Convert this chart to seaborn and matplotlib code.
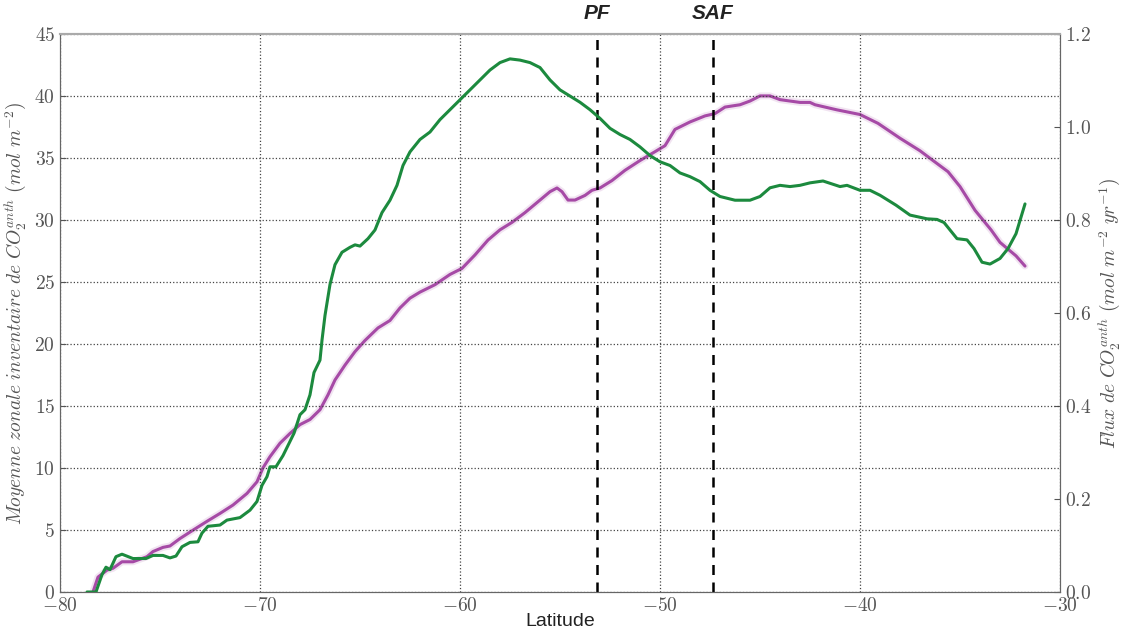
import matplotlib
matplotlib.use('Agg')
import matplotlib.pyplot as plt
from matplotlib.ticker import FuncFormatter
import seaborn as sns
import pandas as pd

# inventaire zonal (axe de gauche, mol m-2)
lat_inv = [-78.65, -78.2, -77.9, -77.7, -77.5, -77.2, -76.9, -76.35, -75.7, -75.35,
           -74.85, -74.5, -74.2, -73.9, -73.5, -73.1, -72.9, -72.6, -72.0, -71.65,
           -71.0, -70.5, -70.15, -69.9, -69.65, -69.5, -69.2, -68.85, -68.3, -68.0,
           -67.75, -67.5, -67.3, -67.0, -66.9, -66.75, -66.5, -66.25, -65.9, -65.5,
           -65.25, -65.0, -64.6, -64.25, -63.9, -63.5, -63.15, -62.85, -62.5, -62.0,
           -61.5, -61.0, -60.5, -60.0, -59.5, -59.0, -58.5, -58.0, -57.5, -57.0,
           -56.5, -56.0, -55.5, -55.0, -54.5, -54.0, -53.5, -53.0, -52.5, -52.0,
           -51.5, -51.0, -50.5, -50.0, -49.5, -49.0, -48.5, -48.0, -47.5, -47.0,
           -46.25, -45.5, -45.0, -44.5, -44.0, -43.5, -43.0, -42.5, -41.85, -41.0,
           -40.65, -40.0, -39.5, -39.0, -38.2, -37.5, -36.65, -36.15, -35.8, -35.15,
           -34.65, -34.3, -33.9, -33.5, -33.0, -32.6, -32.2, -31.75]
inventaire = [0.0, 0.0, 1.4, 2.0, 1.8, 2.85, 3.05, 2.7, 2.7, 2.95,
              2.95, 2.75, 2.9, 3.65, 4.0, 4.05, 4.75, 5.3, 5.4, 5.8,
              6.0, 6.6, 7.3, 8.6, 9.3, 10.1, 10.1, 11.0, 12.8, 14.3,
              14.7, 15.9, 17.7, 18.7, 20.3, 22.3, 24.8, 26.4, 27.4, 27.8,
              28.0, 27.9, 28.5, 29.2, 30.6, 31.6, 32.8, 34.4, 35.5, 36.5,
              37.1, 38.1, 38.9, 39.7, 40.5, 41.3, 42.1, 42.7, 43.0, 42.9,
              42.7, 42.3, 41.3, 40.5, 40.0, 39.5, 38.9, 38.2, 37.4, 36.9,
              36.5, 35.9, 35.2, 34.7, 34.4, 33.8, 33.5, 33.1, 32.4, 31.9,
              31.6, 31.6, 31.9, 32.6, 32.8, 32.7, 32.8, 33.0, 33.15, 32.7,
              32.8, 32.4, 32.4, 32.0, 31.2, 30.4, 30.1, 30.05, 29.8, 28.5,
              28.4, 27.7, 26.6, 26.45, 26.9, 27.7, 28.9, 31.3]

# flux (axe de droite, mol m-2 yr-1)
lat_flux = [-78.35, -78.1, -77.65, -77.35, -76.9, -76.35, -75.65, -75.35, -74.85, -74.5,
            -74.0, -73.35, -72.65, -72.0, -71.35, -70.65, -70.15, -69.85, -69.5, -69.0,
            -68.5, -68.0, -67.5, -67.0, -66.6, -66.25, -65.75, -65.25, -64.75, -64.1,
            -63.5, -63.0, -62.5, -62.0, -61.25, -60.5, -59.9, -59.25, -58.6, -58.0,
            -57.4, -56.75, -56.0, -55.5, -55.15, -54.9, -54.6, -54.25, -53.75, -53.4,
            -53.0, -52.4, -51.75, -51.0, -50.25, -49.75, -49.25, -48.5, -47.75, -47.25,
            -46.75, -46.0, -45.5, -45.0, -44.5, -44.0, -43.0, -42.5, -42.25, -41.15,
            -40.0, -39.1, -38.0, -37.0, -36.35, -35.6, -35.0, -34.25, -33.45, -33.0,
            -32.7, -32.2, -31.75]
flux = [0.0, 0.032, 0.047, 0.051, 0.065, 0.065, 0.076, 0.087, 0.096, 0.099,
        0.115, 0.133, 0.152, 0.169, 0.187, 0.212, 0.237, 0.267, 0.291, 0.320,
        0.341, 0.360, 0.371, 0.392, 0.424, 0.456, 0.488, 0.517, 0.541, 0.568,
        0.584, 0.611, 0.632, 0.645, 0.661, 0.683, 0.696, 0.725, 0.757, 0.779,
        0.795, 0.816, 0.843, 0.861, 0.869, 0.861, 0.843, 0.843, 0.853, 0.864,
        0.869, 0.885, 0.907, 0.928, 0.947, 0.960, 0.995, 1.011, 1.024, 1.029,
        1.043, 1.048, 1.056, 1.067, 1.067, 1.059, 1.053, 1.053, 1.048, 1.037,
        1.027, 1.008, 0.976, 0.949, 0.928, 0.904, 0.872, 0.821, 0.779, 0.752,
        0.741, 0.723, 0.701]

fronts = [-53.15, -47.35]
front_names = ['PF', 'SAF']

green = '#1c8a3e'
purple = '#a64aa6'
grey = '#555555'

sns.set_style('white')
plt.rcParams['font.family'] = ['DejaVu Serif']
plt.rcParams['mathtext.fontset'] = 'cm'

df_inv = pd.DataFrame({'lat': lat_inv, 'val': inventaire})
df_flux = pd.DataFrame({'lat': lat_flux, 'val': flux})

fig = plt.figure(figsize=(11.21, 6.31), dpi=100)
ax = fig.add_axes([0.0535, 0.0618, 0.8921, 0.8842])
ax2 = ax.twinx()

sns.lineplot(data=df_flux, x='lat', y='val', ax=ax2, color=purple, lw=5, alpha=0.15,
             sort=False, estimator=None)
sns.lineplot(data=df_flux, x='lat', y='val', ax=ax2, color=purple, lw=2.2,
             sort=False, estimator=None)
sns.lineplot(data=df_inv, x='lat', y='val', ax=ax, color=green, lw=2.2,
             sort=False, estimator=None, zorder=3)

ax.set_zorder(ax2.get_zorder() + 1)
ax.patch.set_visible(False)

ax.set_xlim(-80, -30)
ax.set_ylim(0, 45)
ax2.set_ylim(0, 1.2)
ax.set_xticks(range(-80, -29, 10))
ax.set_yticks(range(0, 46, 5))
ax2.set_yticks([0.0, 0.2, 0.4, 0.6, 0.8, 1.0, 1.2])

mfmt = FuncFormatter(lambda v, p: '$%g$' % v)
ax.xaxis.set_major_formatter(mfmt)
ax.yaxis.set_major_formatter(mfmt)
ax2.yaxis.set_major_formatter(FuncFormatter(lambda v, p: '$%.1f$' % v))

ax.grid(True, ls=':', color='#444444', lw=0.9)
ax2.grid(False)

for a in (ax, ax2):
    a.tick_params(labelsize=14, colors=grey, direction='in', length=4)
    for s in a.spines.values():
        s.set_color('#666666')
    a.spines['top'].set_color('#aaaaaa')
    a.spines['top'].set_linewidth(1.5)
    a.set_xlabel('')
    a.set_ylabel('')

for xf, name in zip(fronts, front_names):
    ax.axvline(xf, color='black', ls='--', lw=1.8, dashes=(4, 3))
    ax.text(xf, 45.9, name, ha='center', va='bottom', fontsize=15,
            fontweight='bold', fontstyle='italic', family='Liberation Sans',
            color='#222222')

ax.set_xlabel('Latitude', family='Liberation Sans', fontsize=14, color='#222222',
              labelpad=-1)
ax.set_ylabel(r'$Moyenne\ zonale\ inventaire\ de\ CO_2^{anth}\ (mol\ m^{-2})$',
              fontsize=14, color=grey, labelpad=4)
ax2.set_ylabel(r'$Flux\ de\ CO_2^{anth}\ (mol\ m^{-2}\ yr^{-1})$',
               fontsize=14, color=grey, labelpad=4)

fig.savefig('out.png', dpi=100)
